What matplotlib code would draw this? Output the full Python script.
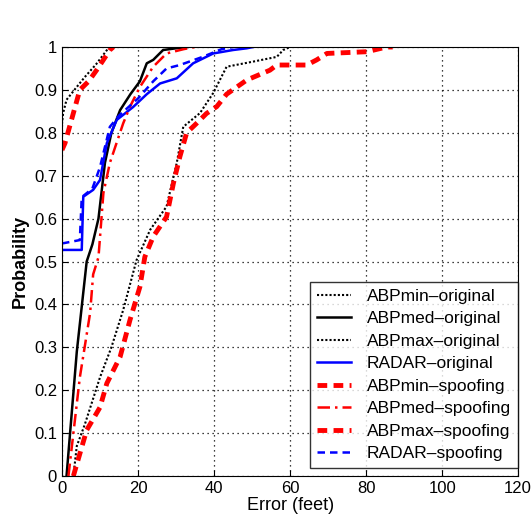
import matplotlib.pyplot as plt

plt.rcParams['font.family'] = ['Liberation Sans', 'DejaVu Sans']

# error (feet) / probability
abpmin_orig_x = [0, 0.3, 1.2, 3.9, 6, 9, 12, 14]
abpmin_orig_y = [0.82, 0.846, 0.877, 0.907, 0.93, 0.96, 0.995, 1.0]

abpmed_orig_x = [1.2, 3.9, 5.2, 6.5, 8, 9.6, 11.3, 13, 15.3, 18, 20.5, 22.3, 24, 26.6, 30, 33]
abpmed_orig_y = [0.0, 0.29, 0.395, 0.5, 0.54, 0.6, 0.73, 0.8, 0.853, 0.89, 0.92, 0.962, 0.97, 0.993, 0.997, 1.0]

abpmax_orig_x = [3, 3.9, 6, 10, 13, 16.1, 19.6, 23.2, 27.5, 30.2, 31.9, 36.3, 39.8, 43.3, 50.3, 56.5, 58.2, 60]
abpmax_orig_y = [0.0, 0.07, 0.12, 0.23, 0.3, 0.387, 0.503, 0.574, 0.628, 0.73, 0.814, 0.846, 0.893, 0.954, 0.966, 0.977, 0.993, 1.0]

radar_orig_x = [0, 0.3, 5.2, 5.6, 8.2, 10, 11.8, 14.4, 18.7, 22.3, 25.8, 30.2, 34.5, 39.8, 45, 48.6, 50.3]
radar_orig_y = [0.527, 0.527, 0.527, 0.651, 0.667, 0.69, 0.776, 0.83, 0.86, 0.89, 0.915, 0.927, 0.962, 0.985, 0.993, 0.997, 1.0]

abpmin_spoof_x = [0, 0.8, 3, 4.7, 7, 9.1, 12.6, 13.5]
abpmin_spoof_y = [0.76, 0.776, 0.846, 0.9, 0.92, 0.946, 0.993, 1.0]

abpmed_spoof_x = [1.7, 4.7, 7.4, 8.2, 9.6, 10.9, 12.6, 16.1, 17.9, 20.5, 24, 27.5, 32, 35]
abpmed_spoof_y = [0.0, 0.23, 0.38, 0.47, 0.51, 0.66, 0.73, 0.822, 0.861, 0.907, 0.954, 0.985, 0.995, 1.0]

abpmax_spoof_x = [3, 6.5, 10, 11.8, 15.3, 17.9, 20.5, 21.8, 24, 27.5, 29.3, 31, 32.8, 35.4, 38, 40.7,
                  43.3, 48.6, 54.7, 56.5, 64.4, 67, 69.7, 80.2, 85.4, 87]
abpmax_spoof_y = [0.0, 0.107, 0.16, 0.216, 0.278, 0.364, 0.441, 0.511, 0.558, 0.604, 0.682, 0.744, 0.8, 0.822,
                  0.845, 0.861, 0.89, 0.923, 0.946, 0.958, 0.958, 0.97, 0.985, 0.989, 1.0, 1.0]

radar_spoof_x = [0, 4.7, 5.2, 8, 10, 12.6, 15, 20, 24, 27.5, 31, 37, 42, 45]
radar_spoof_y = [0.542, 0.55, 0.65, 0.67, 0.72, 0.814, 0.84, 0.88, 0.92, 0.95, 0.958, 0.977, 0.995, 1.0]

fig = plt.figure(figsize=(5.32, 5.2), dpi=100)
ax = fig.add_axes([0.1165, 0.0846, 0.8575, 0.825])

ax.plot(abpmin_orig_x, abpmin_orig_y, color='black', linestyle=(0, (1, 1)), lw=1.5, label='ABPmin\u2013original')
ax.plot(abpmed_orig_x, abpmed_orig_y, color='black', linestyle='-', lw=1.8, label='ABPmed\u2013original')
ax.plot(abpmax_orig_x, abpmax_orig_y, color='black', linestyle=(0, (1, 1)), lw=1.5, label='ABPmax\u2013original')
ax.plot(radar_orig_x, radar_orig_y, color='#0000ff', linestyle='-', lw=1.8, label='RADAR\u2013original')
ax.plot(abpmin_spoof_x, abpmin_spoof_y, color='red', linestyle=(0, (2, 1.3)), lw=3.5, label='ABPmin\u2013spoofing')
ax.plot(abpmed_spoof_x, abpmed_spoof_y, color='red', linestyle=(0, (5, 2, 1, 2)), lw=1.8, label='ABPmed\u2013spoofing')
ax.plot(abpmax_spoof_x, abpmax_spoof_y, color='red', linestyle=(0, (2, 1.3)), lw=3.5, label='ABPmax\u2013spoofing')
ax.plot(radar_spoof_x, radar_spoof_y, color='#0000ff', linestyle=(0, (3, 2)), lw=1.8, label='RADAR\u2013spoofing')

ax.set_xlim(0, 120)
ax.set_ylim(0, 1)
ax.set_xticks(range(0, 121, 20))
ax.set_yticks([i / 10 for i in range(11)])
ax.set_yticklabels(['0'] + ['%.1f' % (i / 10) for i in range(1, 10)] + ['1'])
ax.tick_params(direction='in', labelsize=12, length=4)
ax.grid(True, color='black', linestyle=(0, (1, 3)), lw=0.9)
ax.set_xlabel('Error (feet)', fontsize=13, labelpad=1)
ax.set_ylabel('Probability', fontsize=13, fontweight='bold', labelpad=4)

leg = ax.legend(loc='lower right', bbox_to_anchor=(1.0, 0.0186), fontsize=12.5, frameon=True,
                fancybox=False, edgecolor='black', handlelength=2.0, handletextpad=0.9,
                labelspacing=0.42, borderpad=0.4, borderaxespad=0.0)
leg.get_frame().set_linewidth(1.0)

fig.savefig('out.png', dpi=100)
